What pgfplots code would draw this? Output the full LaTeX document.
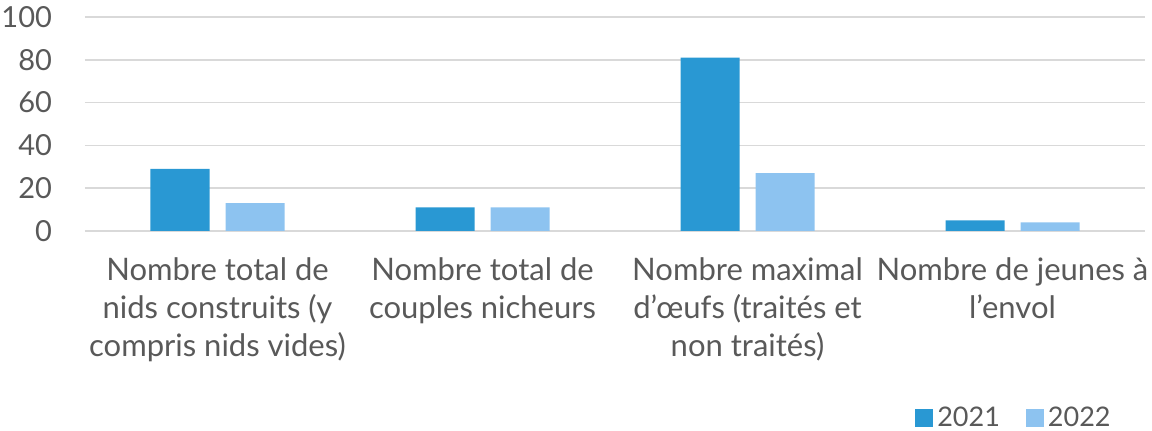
\documentclass[border=0pt]{standalone}
\usepackage{pgfplots}
\pgfplotsset{compat=1.18}
\usepackage{fontspec}
\setmainfont{Lato}
\definecolor{cA}{HTML}{2998D3}
\definecolor{cB}{HTML}{8DC3F0}
\definecolor{txt}{HTML}{595959}
\definecolor{gridc}{HTML}{D9D9D9}
\begin{document}
\begin{tikzpicture}
\path[use as bounding box] (-42.5pt,-100pt) rectangle (533.5pt,115.5pt);
\begin{axis}[
  at={(0pt,0pt)}, anchor=south west,
  scale only axis, width=530pt, height=107pt,
  xmin=-0.5, xmax=3.5, ymin=0, ymax=100,
  ytick={0,20,...,100},
  xtick={0,1,2,3},
  xticklabels={{Nombre total de\\nids construits (y\\compris nids vides)},{Nombre total de\\couples nicheurs},{Nombre maximal\\d’œufs (traités et\\non traités)},{Nombre de jeunes à\\l’envol}},
  xticklabel style={align=center, font=\fontsize{15.5}{19}\selectfont, text=txt, yshift=-10pt},
  yticklabel style={font=\fontsize{14.5}{18}\selectfont, text=txt, xshift=-13pt},
  /pgf/number format/assume math mode=true,
  axis line style={draw=none},
  major tick length=0pt,
  ymajorgrids, grid style={gridc, line width=0.8pt},
  legend style={draw=none, at={(1,0)}, anchor=east, xshift=-12pt, yshift=-93.5pt, font=\fontsize{13.5}{16}\selectfont, text=txt, legend columns=2, /tikz/every even column/.append style={column sep=11pt}},
  legend image code/.code={\fill[#1] (0pt,-4.5pt) rectangle (9pt,4.5pt);},
]
\addplot[ybar, bar width=29.5pt, bar shift=-18.75pt, fill=cA, draw=none] coordinates {(0,29) (1,11) (2,81) (3,5)};
\addplot[ybar, bar width=29.5pt, bar shift=18.75pt, fill=cB, draw=none] coordinates {(0,13) (1,11) (2,27) (3,4)};
\legend{2021,2022}
\end{axis}
\end{tikzpicture}
\end{document}
